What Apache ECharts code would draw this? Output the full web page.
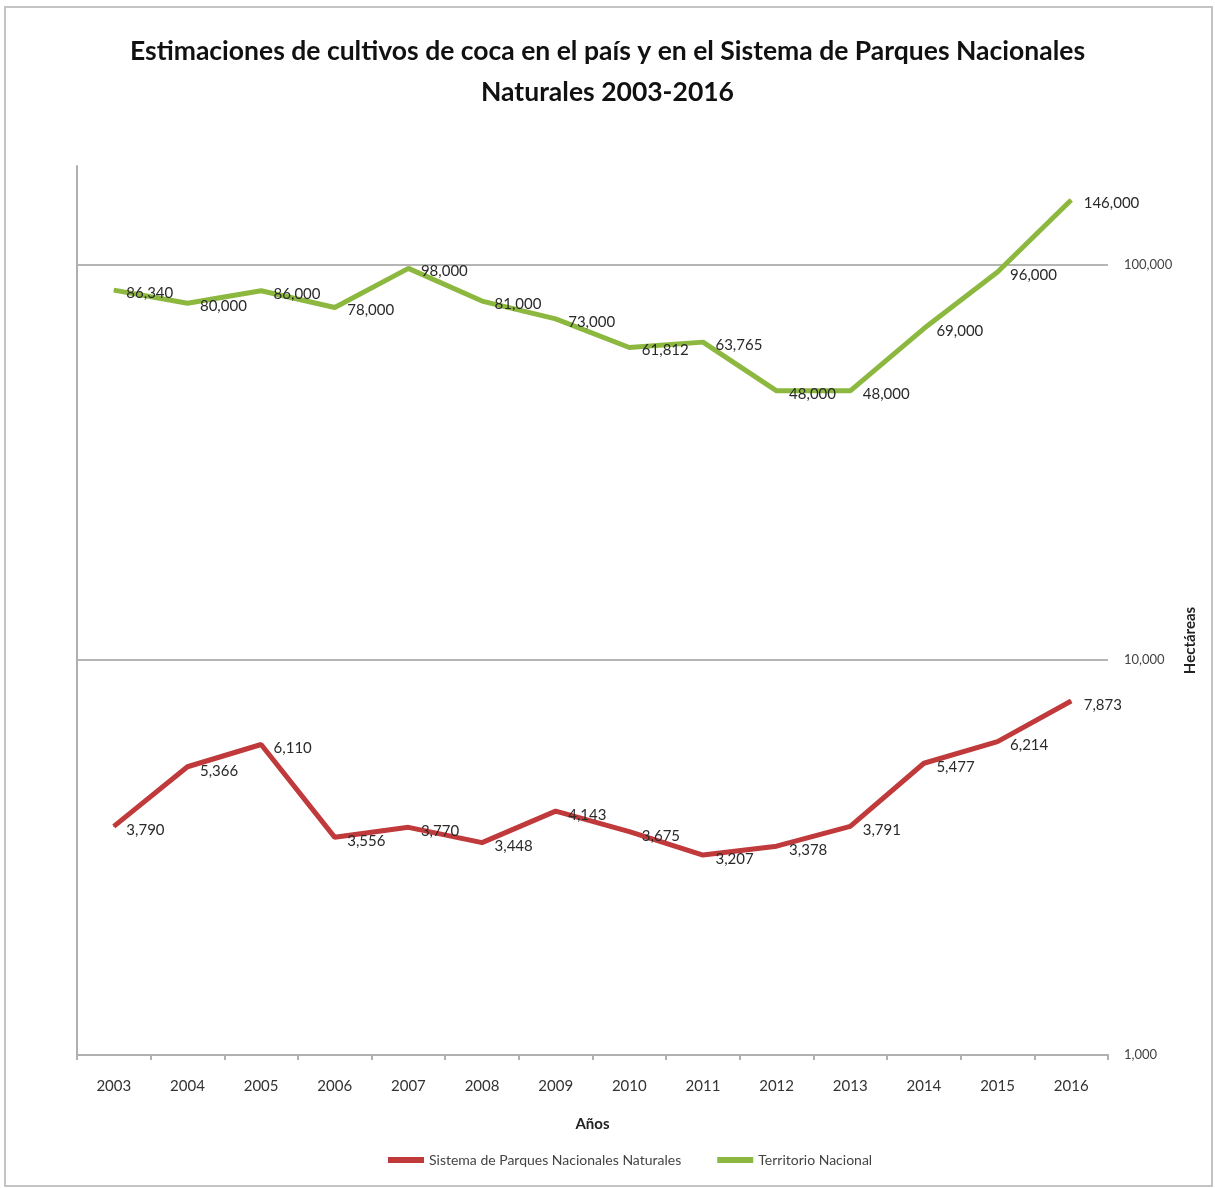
<!DOCTYPE html>
<html>
<head>
<meta charset="utf-8">
<script src="https://cdn.jsdelivr.net/npm/echarts@6/dist/echarts.min.js"></script>
<style>
  html, body { margin: 0; padding: 0; background: #fff; }
  #chart { width: 1215px; height: 1188px; }
</style>
</head>
<body>
<div id="chart"></div>
<script>
var years = ['2003','2004','2005','2006','2007','2008','2009','2010','2011','2012','2013','2014','2015','2016']
var parques = [3790, 5366, 6110, 3556, 3770, 3448, 4143, 3675, 3207, 3378, 3791, 5477, 6214, 7873]
var territorio = [86340, 80000, 86000, 78000, 98000, 81000, 73000, 61812, 63765, 48000, 48000, 69000, 96000, 146000]
var yTicks = [1000, 10000, 100000]

var font = 'Lato, "Open Sans", sans-serif'
var fmt = function (v) { return Number(v).toLocaleString('en-US') }

var myChart = echarts.init(document.getElementById('chart'))
var option = {
    backgroundColor: '#fff',
    animation: false,
    textStyle: { fontFamily: font },
    title: {
        text: 'Estimaciones de cultivos de coca en el país y en el Sistema de Parques Nacionales\nNaturales 2003-2016',
        left: 'center',
        top: 26,
        textStyle: { fontSize: 26.5, fontWeight: 'bold', color: '#111', lineHeight: 41, fontFamily: font }
    },
    graphic: [{
        type: 'rect',
        shape: { x: 5, y: 7, width: 1207, height: 1179 },
        style: { fill: 'none', stroke: '#c4c4c4', lineWidth: 2 },
        silent: true
    }],
    legend: {
        left: 383,
        top: 1148,
        itemWidth: 36,
        itemHeight: 6,
        itemGap: 36,
        icon: 'rect',
        textStyle: { fontSize: 14, color: '#444', fontFamily: font },
        data: ['Sistema de Parques Nacionales Naturales', 'Territorio Nacional']
    },
    grid: { left: 77, right: 107, top: 166, bottom: 133 },
    xAxis: {
        type: 'category',
        data: years,
        boundaryGap: true,
        name: 'Años',
        nameLocation: 'middle',
        nameGap: 62,
        nameTextStyle: { fontSize: 15, fontWeight: 'bold', color: '#222' },
        axisLine: { lineStyle: { color: '#b0b0b0', width: 2 } },
        axisTick: { show: true, length: 5, lineStyle: { color: '#b0b0b0', width: 2 } },
        axisLabel: { fontSize: 15, color: '#333', margin: 24 },
        splitLine: { show: false }
    },
    yAxis: [{
        type: 'log',
        logBase: 10,
        min: 1000,
        max: 178000,
        position: 'right',
        name: 'Hectáreas',
        nameLocation: 'middle',
        nameGap: 66,
        nameRotate: 90,
        nameTextStyle: { fontSize: 15, fontWeight: 'bold', color: '#222', padding: [0, 60, 0, 0] },
        axisLine: { show: false },
        axisTick: { show: false },
        axisLabel: {
            fontSize: 13, color: '#444', margin: 16,
            showMaxLabel: false,
            formatter: function (v) { return yTicks.indexOf(v) >= 0 ? fmt(v) : '' }
        },
        splitLine: { show: true, showMinLine: false, showMaxLine: false, lineStyle: { color: '#b5b5b5', width: 2 } }
    }, {
        type: 'log',
        logBase: 10,
        min: 1000,
        max: 178000,
        position: 'left',
        axisLine: { show: true, lineStyle: { color: '#b0b0b0', width: 2 } },
        axisTick: { show: false },
        axisLabel: { show: false },
        splitLine: { show: false }
    }],
    series: [{
        name: 'Sistema de Parques Nacionales Naturales',
        type: 'line',
        data: parques,
        yAxisIndex: 0,
        symbol: 'circle',
        symbolSize: 1,
        showSymbol: true,
        color: '#c0393b',
        lineStyle: { width: 5, color: '#c0393b' },
        label: {
            show: true, position: 'right', distance: 12, offset: [0, 4],
            fontSize: 15, color: '#2a2a2a',
            formatter: function (p) { return fmt(p.value) }
        }
    }, {
        name: 'Territorio Nacional',
        type: 'line',
        data: territorio,
        yAxisIndex: 0,
        symbol: 'circle',
        symbolSize: 1,
        showSymbol: true,
        color: '#8db83f',
        lineStyle: { width: 5, color: '#8db83f' },
        label: {
            show: true, position: 'right', distance: 12, offset: [0, 3],
            fontSize: 15, color: '#2a2a2a',
            formatter: function (p) { return fmt(p.value) }
        }
    }]
}
myChart.setOption(option)
</script>
</body>
</html>
